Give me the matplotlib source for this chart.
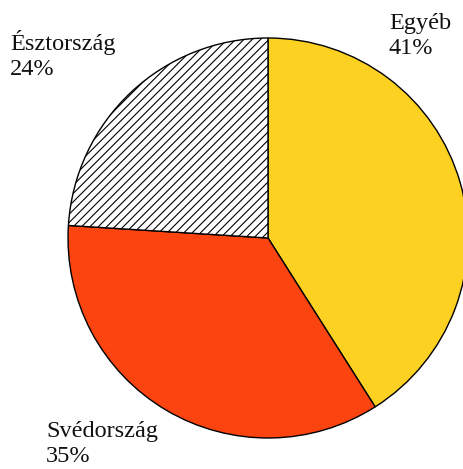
import matplotlib.pyplot as plt

# share of each category (%)
labels = ['Egyéb', 'Svédország', 'Észtország']
values = [41, 35, 24]
colors = ['#FDD122', '#FC4410', 'white']
hatches = ['', '', '////']

fig = plt.figure(figsize=(4.64, 4.69), dpi=100)
ax = fig.add_axes([0, 0, 1, 1])

plt.rcParams['hatch.linewidth'] = 0.8
wedges, _ = ax.pie(values, colors=colors, startangle=90, counterclock=False,
                   center=(268, 231), radius=200, frame=True,
                   wedgeprops=dict(edgecolor='black', linewidth=1.0))
for w, h in zip(wedges, hatches):
    w.set_hatch(h)
ax.set_xlim(0, 464)
ax.set_ylim(0, 469)
ax.set_aspect('equal')
ax.axis('off')

# label anchors (top-left of text block), in pixel-like coords
label_pos = [(389, 456), (46, 48), (10, 439)]
for name, v, (x, y) in zip(labels, values, label_pos):
    ax.text(x, y, f"{name}\n{v}%", ha='left', va='top', fontsize=17.5,
            family='Liberation Serif', linespacing=1.25, color='#111111')

fig.savefig('out.png', dpi=100)
